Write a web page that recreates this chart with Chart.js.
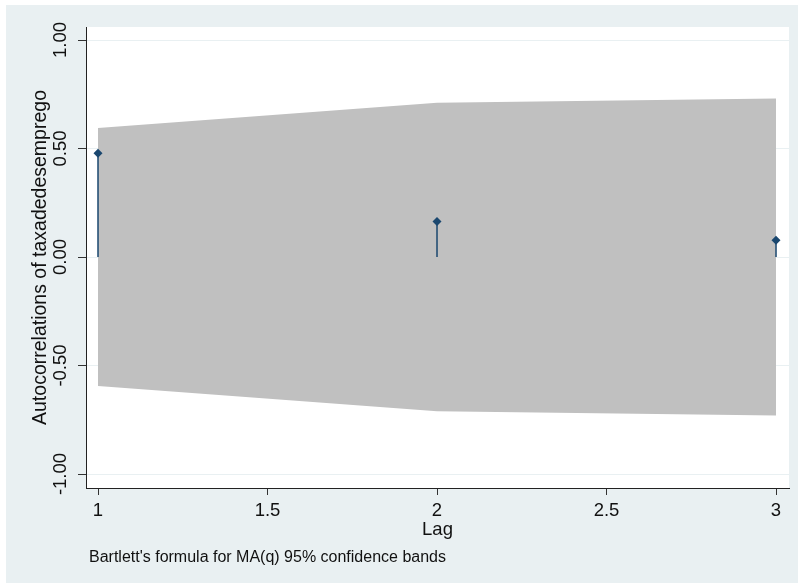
<!DOCTYPE html>
<html>
<head>
<meta charset="utf-8">
<script src="https://cdn.jsdelivr.net/npm/chart.js@4"></script>
<style>
    html, body { margin: 0; padding: 0; background: #ffffff; }
    #wrap { position: absolute; left: 6px; top: 5px; width: 792px; height: 578px; background: #e9f0f2; }
</style>
</head>
<body>
<div id="wrap"><canvas id="acfChart"></canvas></div>
<script>
// autocorrelations by lag
const lags = [1, 2, 3];
const acf = [0.478, 0.164, 0.077];
const bandUpper = [0.595, 0.711, 0.730];
const bandLower = [-0.595, -0.711, -0.730];

const xTicks = [1, 1.5, 2, 2.5, 3];
const yTicks = [-1, -0.5, 0, 0.5, 1];

const navy = '#1a476f';
const font = 'Liberation Sans, Arial, sans-serif';

// stems: zero -> value, broken by null
const stems = [];
lags.forEach((lag, i) => {
    stems.push({ x: lag, y: 0 });
    stems.push({ x: lag, y: acf[i] });
    stems.push({ x: lag, y: null });
});

const plotBackground = {
    id: 'plotBackground',
    beforeDraw(chart) {
        const { ctx, chartArea } = chart;
        ctx.save();
        ctx.fillStyle = '#ffffff';
        ctx.fillRect(chartArea.left, chartArea.top, chartArea.right - chartArea.left, chartArea.bottom - chartArea.top);
        ctx.restore();
    }
};

const note = {
    id: 'note',
    afterDraw(chart) {
        const { ctx, chartArea } = chart;
        ctx.save();
        ctx.font = '16px ' + font;
        ctx.fillStyle = '#111111';
        ctx.textAlign = 'left';
        ctx.textBaseline = 'alphabetic';
        ctx.fillText("Bartlett's formula for MA(q) 95% confidence bands", chartArea.left + 3, chartArea.bottom + 74);
        ctx.restore();
    }
};

const ctx = document.getElementById('acfChart').getContext('2d');
new Chart(ctx, {
    type: 'line',
    data: {
        datasets: [
            {
                label: 'acf',
                data: lags.map((lag, i) => ({ x: lag, y: acf[i] })),
                showLine: false,
                pointStyle: 'rectRot',
                pointRadius: 4.5,
                backgroundColor: navy,
                borderColor: navy,
                borderWidth: 0
            },
            {
                label: 'stems',
                data: stems,
                borderColor: navy,
                borderWidth: 1.5,
                pointRadius: 0,
                spanGaps: false,
                fill: false
            },
            {
                label: 'lower',
                data: lags.map((lag, i) => ({ x: lag, y: bandLower[i] })),
                borderWidth: 0,
                pointRadius: 0,
                fill: false
            },
            {
                label: 'upper',
                data: lags.map((lag, i) => ({ x: lag, y: bandUpper[i] })),
                borderWidth: 0,
                borderColor: 'rgba(0,0,0,0)',
                pointRadius: 0,
                backgroundColor: '#c0c0c0',
                fill: 2
            }
        ]
    },
    options: {
        responsive: true,
        maintainAspectRatio: false,
        animation: false,
        layout: {
            padding: { left: 0, right: 9, top: 22, bottom: 0 }
        },
        plugins: {
            legend: { display: false },
            tooltip: { enabled: false }
        },
        scales: {
            x: {
                type: 'linear',
                min: 0.9646,
                max: 3.0383,
                afterBuildTicks: scale => { scale.ticks = xTicks.map(v => ({ value: v })); },
                afterFit: scale => { scale.height = 95; },
                grid: {
                    drawOnChartArea: false,
                    tickLength: 7,
                    tickColor: '#333333'
                },
                border: { color: '#222222', width: 1 },
                ticks: {
                    color: '#111111',
                    font: { family: font, size: 18.5 },
                    padding: 5,
                    maxRotation: 0,
                    callback: v => String(v)
                },
                title: {
                    display: true,
                    text: 'Lag',
                    color: '#111111',
                    font: { family: font, size: 18.5 },
                    padding: { top: 0, bottom: 42 }
                }
            },
            y: {
                min: -1.0645,
                max: 1.06,
                afterBuildTicks: scale => { scale.ticks = yTicks.map(v => ({ value: v })); },
                afterFit: scale => { scale.width = 80; },
                grid: {
                    color: '#e9f0f2',
                    lineWidth: 1,
                    tickLength: 8,
                    tickColor: '#333333'
                },
                border: { color: '#222222', width: 1 },
                ticks: {
                    color: '#111111',
                    font: { family: font, size: 18.5 },
                    minRotation: 90,
                    maxRotation: 90,
                    crossAlign: 'center',
                    padding: -4,
                    callback: v => v.toFixed(2)
                },
                title: {
                    display: true,
                    text: 'Autocorrelations of taxadedesemprego',
                    color: '#111111',
                    font: { family: font, size: 19.5 },
                    padding: { top: 23, bottom: 0 }
                }
            }
        }
    },
    plugins: [plotBackground, note]
});
</script>
</body>
</html>
